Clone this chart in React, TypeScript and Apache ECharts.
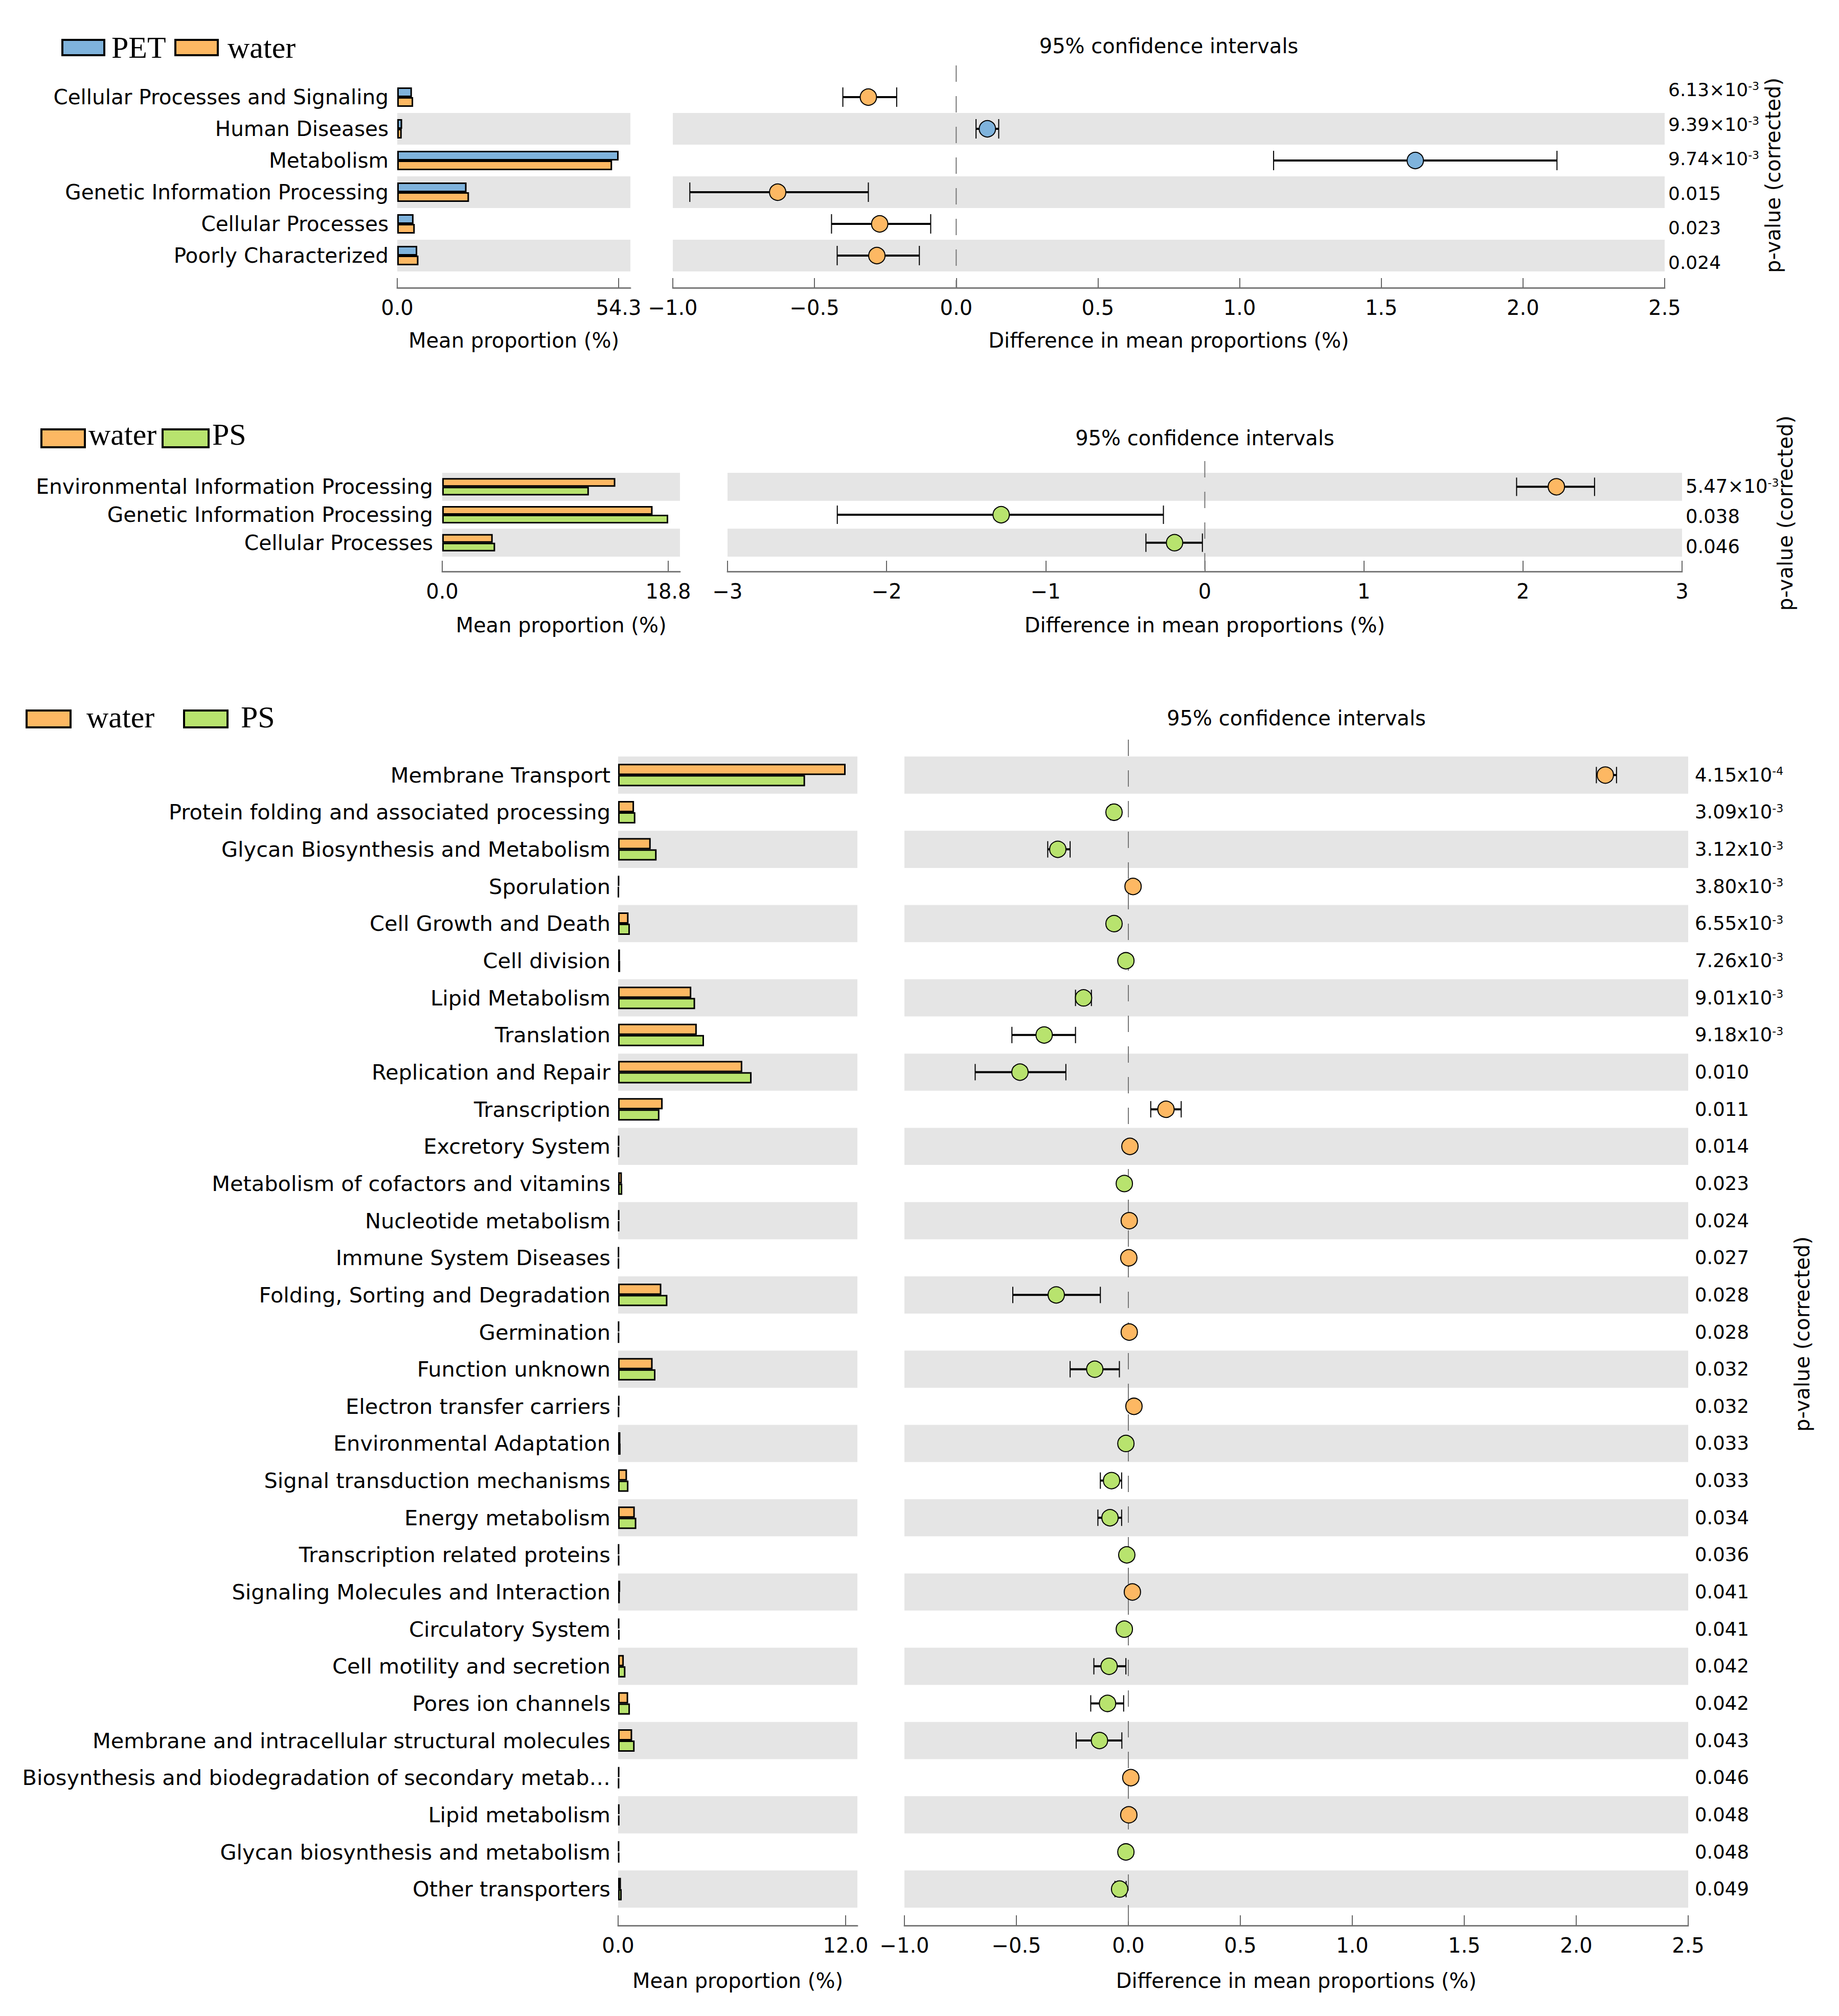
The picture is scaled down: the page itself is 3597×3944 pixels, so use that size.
import React, { useEffect, useRef } from 'react';
import * as echarts from 'echarts';

const BLUE = '#7fb3dc';
const ORANGE = '#fdb863';
const GREEN = '#b8e36e';

// ---------- Panel 1: PET vs water ----------
const topCats = ['Cellular Processes and Signaling', 'Human Diseases', 'Metabolism', 'Genetic Information Processing', 'Cellular Processes', 'Poorly Characterized'];
const topPET = [3.6, 1.2, 54.3, 17.0, 4.0, 4.9];
const topWater = [3.9, 1.1, 52.7, 17.6, 4.3, 5.2];
const topDiff = [-0.31, 0.11, 1.62, -0.63, -0.27, -0.28];
const topLow = [-0.40, 0.07, 1.12, -0.94, -0.44, -0.42];
const topHigh = [-0.21, 0.15, 2.12, -0.31, -0.09, -0.13];
const topP = ['6.13×10^-3', '9.39×10^-3', '9.74×10^-3', '0.015', '0.023', '0.024'];
const topBarTicks = [0, 54.3];

// ---------- Panel 2: water vs PS ----------
const midCats = ['Environmental Information Processing', 'Genetic Information Processing', 'Cellular Processes'];
const midWater = [14.4, 17.5, 4.2];
const midPS = [12.2, 18.8, 4.4];
const midDiff = [2.21, -1.28, -0.19];
const midLow = [1.96, -2.31, -0.37];
const midHigh = [2.45, -0.26, -0.015];
const midP = ['5.47×10^-3', '0.038', '0.046'];
const midBarTicks = [0, 18.8];

// ---------- Panel 3: water vs PS ----------
const botCats = [
  'Membrane Transport', 'Protein folding and associated processing', 'Glycan Biosynthesis and Metabolism', 'Sporulation',
  'Cell Growth and Death', 'Cell division', 'Lipid Metabolism', 'Translation', 'Replication and Repair', 'Transcription',
  'Excretory System', 'Metabolism of cofactors and vitamins', 'Nucleotide metabolism', 'Immune System Diseases',
  'Folding, Sorting and Degradation', 'Germination', 'Function unknown', 'Electron transfer carriers',
  'Environmental Adaptation', 'Signal transduction mechanisms', 'Energy metabolism', 'Transcription related proteins',
  'Signaling Molecules and Interaction', 'Circulatory System', 'Cell motility and secretion', 'Pores ion channels',
  'Membrane and intracellular structural molecules', 'Biosynthesis and biodegradation of secondary metab…',
  'Lipid metabolism', 'Glycan biosynthesis and metabolism', 'Other transporters'
];
const botWater = [12.0, 0.84, 1.72, 0.05, 0.55, 0.10, 3.86, 4.15, 6.55, 2.35, 0.05, 0.20, 0.06, 0.04, 2.28, 0.05, 1.82, 0.07, 0.12, 0.47, 0.88, 0.05, 0.11, 0.06, 0.30, 0.53, 0.74, 0.06, 0.07, 0.05, 0.15];
const botPS = [9.86, 0.91, 2.03, 0.03, 0.62, 0.11, 4.06, 4.53, 7.04, 2.18, 0.04, 0.22, 0.056, 0.038, 2.60, 0.046, 1.97, 0.045, 0.13, 0.545, 0.96, 0.057, 0.092, 0.078, 0.386, 0.623, 0.87, 0.049, 0.068, 0.061, 0.19];
const botDiff = [2.13, -0.064, -0.315, 0.021, -0.064, -0.011, -0.20, -0.376, -0.484, 0.168, 0.007, -0.018, 0.004, 0.002, -0.322, 0.004, -0.15, 0.025, -0.011, -0.075, -0.082, -0.007, 0.018, -0.018, -0.086, -0.093, -0.129, 0.011, 0.002, -0.011, -0.039];
const botLow = [2.09, -0.08, -0.36, 0.01, -0.075, -0.015, -0.236, -0.52, -0.684, 0.10, 0.003, -0.025, 0.001, 0.0, -0.516, 0.001, -0.26, 0.015, -0.016, -0.125, -0.136, -0.01, 0.01, -0.025, -0.154, -0.168, -0.233, 0.005, 0.0, -0.016, -0.06];
const botHigh = [2.18, -0.05, -0.26, 0.03, -0.05, -0.007, -0.165, -0.236, -0.279, 0.236, 0.011, -0.011, 0.007, 0.004, -0.125, 0.007, -0.04, 0.035, -0.006, -0.03, -0.03, -0.004, 0.026, -0.011, -0.011, -0.021, -0.029, 0.017, 0.004, -0.006, -0.01];
const botP = ['4.15x10^-4', '3.09x10^-3', '3.12x10^-3', '3.80x10^-3', '6.55x10^-3', '7.26x10^-3', '9.01x10^-3', '9.18x10^-3', '0.010', '0.011', '0.014', '0.023', '0.024', '0.027', '0.028', '0.028', '0.032', '0.032', '0.033', '0.033', '0.034', '0.036', '0.041', '0.041', '0.042', '0.042', '0.043', '0.046', '0.048', '0.048', '0.049'];
const botBarTicks = [0, 12.0];

const FONT = 'DejaVu Sans';
const SERIF = 'Liberation Serif, Times New Roman, serif';

type Panel = {
  cats: string[]; a: number[]; b: number[]; diff: number[]; lo: number[]; hi: number[]; p: string[];
  names: [string, string]; colors: [string, string]; barTicks: number[]; barMax: number;
  ciMin: number; ciMax: number; ciInterval: number; ciDec: number;
  L: any;
};

const panels: Panel[] = [
  {
    cats: topCats, a: topPET, b: topWater, diff: topDiff, lo: topLow, hi: topHigh, p: topP,
    names: ['PET', 'water'], colors: [BLUE, ORANGE], barTicks: topBarTicks, barMax: 54.3 * 456 / 433,
    ciMin: -1, ciMax: 2.5, ciInterval: 0.5, ciDec: 1,
    L: {
      barLeft: 777, barW: 456, ciLeft: 1316, ciW: 1940, top: 159, h: 372, offset: 32, tickLen: 19,
      labelMargin: 17, labelSize: 40.5, zeroTop: 128, firstGray: false, capH: 38, bw: 19,
      pTop: 142, pH: 405, pMargin: 7, pSize: 36,
      titleY: 90, nameY: 666, rotX: 3468, rotY: 343, legY: 78, legH: 30, legTextY: 93,
      items: [{ x: 122, w: 82, tx: 218 }, { x: 343, w: 83, tx: 445 }],
    },
  },
  {
    cats: midCats, a: midWater, b: midPS, diff: midDiff, lo: midLow, hi: midHigh, p: midP,
    names: ['water', 'PS'], colors: [ORANGE, GREEN], barTicks: midBarTicks, barMax: 18.8 * 465 / 442,
    ciMin: -3, ciMax: 3, ciInterval: 1, ciDec: 0,
    L: {
      barLeft: 865, barW: 465, ciLeft: 1423, ciW: 1867, top: 925, h: 164, offset: 29, tickLen: 21,
      labelMargin: 18, labelSize: 40.8, zeroTop: 902, firstGray: true, capH: 36, bw: 17,
      pTop: 922, pH: 177, pMargin: 7, pSize: 37,
      titleY: 857, nameY: 1223, rotX: 3492, rotY: 1004, legY: 840, legH: 35, legTextY: 850,
      items: [{ x: 81, w: 85, tx: 173 }, { x: 318, w: 90, tx: 415 }],
    },
  },
  {
    cats: botCats, a: botWater, b: botPS, diff: botDiff, lo: botLow, hi: botHigh, p: botP,
    names: ['water', 'PS'], colors: [ORANGE, GREEN], barTicks: botBarTicks, barMax: 12 * 468 / 445,
    ciMin: -1, ciMax: 2.5, ciInterval: 0.5, ciDec: 1,
    L: {
      barLeft: 1209, barW: 468, ciLeft: 1769, ciW: 1533, top: 1480, h: 2252, offset: 35, tickLen: 20,
      labelMargin: 15, labelSize: 41.5, zeroTop: 1447, firstGray: true, capH: 32, bw: 22,
      pTop: 1480, pH: 2252, pMargin: 13, pSize: 37,
      titleY: 1405, nameY: 3875, rotX: 3525, rotY: 2610, legY: 1390, legH: 33, legTextY: 1403,
      items: [{ x: 52, w: 86, tx: 169 }, { x: 360, w: 85, tx: 471 }],
    },
  },
];

const GRAY = '#e5e5e5';

function textEl(text: string, x: number, y: number, size: number, family: string, align = 'center', rotation = 0) {
  return {
    type: 'text', x, y, rotation, z: 10,
    style: {
      text, fill: '#000', fontSize: size, fontFamily: family,
      align, textAlign: align, verticalAlign: 'middle', textVerticalAlign: 'middle',
    },
  };
}

function buildOption() {
  const grid: any[] = [];
  const xAxis: any[] = [];
  const yAxis: any[] = [];
  const series: any[] = [];
  const graphic: any[] = [];

  panels.forEach((P, pi) => {
    const L = P.L;
    const gBar = 3 * pi, gCi = 3 * pi + 1, gP = 3 * pi + 2;
    const yBar = 3 * pi, yCi = 3 * pi + 1;
    grid.push({ left: L.barLeft, top: L.top, width: L.barW, height: L.h, containLabel: false });
    grid.push({ left: L.ciLeft, top: L.top, width: L.ciW, height: L.h, containLabel: false });
    grid.push({ left: L.ciLeft, top: L.pTop, width: L.ciW, height: L.pH, containLabel: false });

    const axisLine = { show: true, lineStyle: { color: '#7a7a7a', width: 3 } };
    const axisTick = (extra: any) => ({ show: true, inside: true, length: L.tickLen, lineStyle: { color: '#666', width: 2 }, ...extra });
    const bands = L.firstGray ? [GRAY, 'rgba(255,255,255,0)'] : ['rgba(255,255,255,0)', GRAY];

    xAxis.push({
      type: 'value', gridIndex: gBar, min: 0, max: P.barMax, position: 'bottom', offset: L.offset,
      axisLine, axisTick: axisTick({ customValues: P.barTicks }),
      axisLabel: { customValues: P.barTicks, fontSize: 40, color: '#000', margin: 19, formatter: (v: number) => v.toFixed(1) },
      splitLine: { show: false },
    });
    xAxis.push({
      type: 'value', gridIndex: gCi, min: P.ciMin, max: P.ciMax, interval: P.ciInterval, position: 'bottom', offset: L.offset,
      axisLine, axisTick: axisTick({}),
      axisLabel: {
        fontSize: 40, color: '#000', margin: 19,
        formatter: (v: number) => { const s = Math.abs(v).toFixed(P.ciDec); return v < -1e-9 ? '\u2212' + s : s; },
      },
      splitLine: { show: false },
    });
    xAxis.push({ type: 'value', gridIndex: gP, show: false, min: 0, max: 1 });

    yAxis.push({
      type: 'category', gridIndex: gBar, data: P.cats, inverse: true,
      axisLine: { show: false }, axisTick: { show: false },
      axisLabel: { fontSize: L.labelSize, color: '#000', margin: L.labelMargin, interval: 0 },
      splitArea: { show: true, interval: 0, areaStyle: { color: bands } },
      splitLine: { show: false },
    });
    yAxis.push({
      type: 'category', gridIndex: gCi, data: P.cats, inverse: true,
      axisLine: { show: false }, axisTick: { show: false }, axisLabel: { show: false },
      splitArea: { show: true, interval: 0, areaStyle: { color: bands } },
      splitLine: { show: false },
    });
    yAxis.push({
      type: 'category', gridIndex: gP, data: P.p, inverse: true, position: 'right',
      axisLine: { show: false }, axisTick: { show: false },
      axisLabel: {
        fontSize: L.pSize, color: '#000', margin: L.pMargin, interval: 0, align: 'left',
        formatter: (v: string) => {
          const parts = v.split('^');
          return parts.length > 1 ? parts[0] + '{s|' + parts[1] + '}' : v;
        },
        rich: { s: { fontSize: 22, verticalAlign: 'top', color: '#000', fontFamily: FONT } },
      },
      splitArea: { show: false }, splitLine: { show: false },
    });

    // bars
    [P.a, P.b].forEach((vals, k) => {
      series.push({
        type: 'bar', name: P.names[k], xAxisIndex: gBar, yAxisIndex: yBar, data: vals,
        barWidth: L.bw, barGap: '0%',
        itemStyle: { color: P.colors[k], borderColor: '#000', borderWidth: 3 },
        z: 3,
      });
    });

    // zero reference line
    series.push({
      type: 'custom', xAxisIndex: gCi, yAxisIndex: yCi, clip: false, silent: true, z: 1,
      data: [[0, 0]], encode: { x: 0, y: 1 },
      renderItem: (params: any, api: any) => {
        const pt = api.coord([api.value(0), api.value(1)]);
        const cs = params.coordSys;
        return {
          type: 'line',
          shape: { x1: pt[0], y1: L.zeroTop, x2: pt[0], y2: cs.y + cs.height + L.offset },
          style: { stroke: '#777', lineWidth: 2, lineDash: [32, 28] },
        };
      },
    });

    // error bars
    series.push({
      type: 'custom', xAxisIndex: gCi, yAxisIndex: yCi, clip: false, silent: true, z: 4,
      data: P.lo.map((lo, i) => [lo, P.hi[i], i]), encode: { x: [0, 1], y: 2 },
      renderItem: (params: any, api: any) => {
        const a = api.coord([api.value(0), api.value(2)]);
        const b = api.coord([api.value(1), api.value(2)]);
        const hh = L.capH / 2;
        return {
          type: 'group',
          children: [
            { type: 'line', shape: { x1: a[0], y1: a[1], x2: b[0], y2: b[1] }, style: { stroke: '#000', lineWidth: 4 } },
            { type: 'line', shape: { x1: a[0], y1: a[1] - hh, x2: a[0], y2: a[1] + hh }, style: { stroke: '#000', lineWidth: 2 } },
            { type: 'line', shape: { x1: b[0], y1: b[1] - hh, x2: b[0], y2: b[1] + hh }, style: { stroke: '#000', lineWidth: 2 } },
          ],
        };
      },
    });

    // points
    series.push({
      type: 'scatter', xAxisIndex: gCi, yAxisIndex: yCi, z: 5,
      data: P.diff.map((d, i) => [d, i]), symbol: 'circle', symbolSize: 32,
      itemStyle: {
        color: (p: any) => (P.diff[p.dataIndex] > 0 ? P.colors[0] : P.colors[1]),
        borderColor: '#000', borderWidth: 2, opacity: 1,
      },
    });

    // texts
    const barCx = L.barLeft + L.barW / 2;
    const ciCx = L.ciLeft + L.ciW / 2;
    graphic.push(textEl('95% confidence intervals', ciCx, L.titleY, 40, FONT));
    graphic.push(textEl('Mean proportion (%)', barCx, L.nameY, 40, FONT));
    graphic.push(textEl('Difference in mean proportions (%)', ciCx, L.nameY, 40, FONT));
    graphic.push(textEl('p-value (corrected)', L.rotX, L.rotY, 40, FONT, 'center', Math.PI / 2));

    // legend
    L.items.forEach((it: any, k: number) => {
      graphic.push({
        type: 'rect', shape: { x: it.x, y: L.legY, width: it.w, height: L.legH }, z: 10,
        style: { fill: P.colors[k], stroke: '#000', lineWidth: 4 },
      });
      graphic.push(textEl(P.names[k], it.tx, L.legTextY, 60, SERIF, 'left'));
    });
  });

  return {
    animation: false,
    backgroundColor: '#fff',
    textStyle: { fontFamily: FONT },
    grid, xAxis, yAxis, series, graphic,
  };
}

export default function App() {
  const ref = useRef<HTMLDivElement>(null);
  useEffect(() => {
    if (!ref.current) return;
    const chart = echarts.init(ref.current, undefined, { renderer: 'svg' });
    chart.setOption(buildOption() as any);
    return () => chart.dispose();
  }, []);
  return (
    <div
      ref={ref}
      style={{ position: 'absolute', left: 0, top: 0, width: 3597, height: 3944, background: '#fff' }}
    />
  );
}
